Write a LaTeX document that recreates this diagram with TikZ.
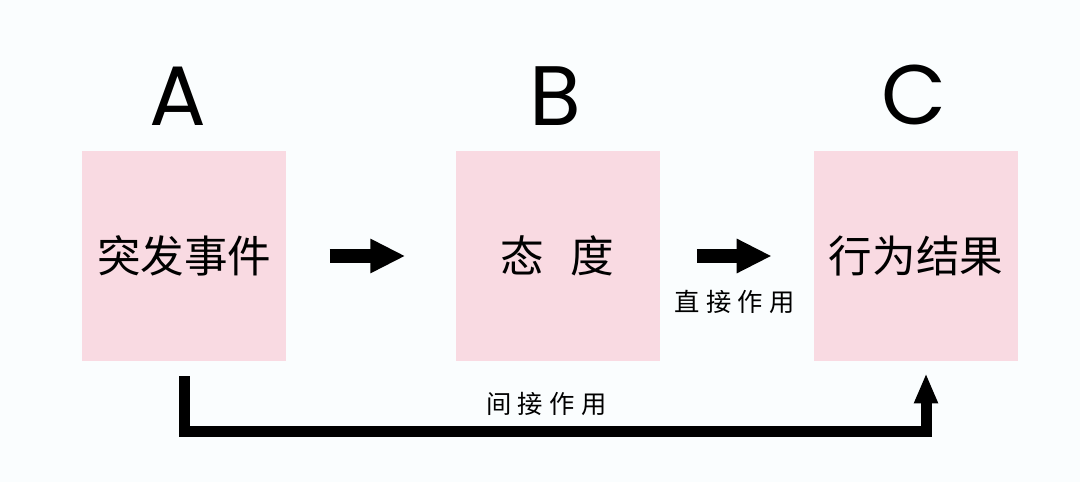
\documentclass[tikz,border=0pt]{standalone}
\usepackage{fontspec}
\newfontfamily\cjk{Noto Sans CJK SC}
\newfontfamily\cjkwide{Noto Sans CJK SC}[LetterSpace=25]
\newfontfamily\letterfont{Poppins}
\usetikzlibrary{positioning,arrows.meta,calc}
\definecolor{boxpink}{HTML}{F9DAE2}
\definecolor{paper}{HTML}{FAFDFE}
\begin{document}
\begin{tikzpicture}[
  box/.style={fill=boxpink, minimum width=5.1cm, minimum height=5.25cm, inner sep=0pt,
    font=\cjk\fontsize{31}{36}\selectfont},
  tag/.style={inner sep=0pt, font=\letterfont\fontsize{60}{66}\selectfont},
  note/.style={inner sep=0pt, font=\cjkwide\fontsize{18}{21}\selectfont},
  fat/.style={line width=0.35cm, -{Triangle[width=0.8cm,length=0.875cm]}},
  bypass/.style={line width=0.275cm, -{Triangle[width=0.55cm,length=0.75cm]}}
]
\fill[paper] (0,0) rectangle (27,-12.05);
\useasboundingbox (0,0) rectangle (27,-12.05);
% the three stages
\node[box] (a) at (4.61,-6.4) {突发事件};
\node[box] (b) at (13.94,-6.4) {态\hspace{0.6em}度};
\node[box] (c) at (22.9,-6.4) {行为结果};
\node[tag, above=0.625cm of a, xshift=-0.15cm] (la) {A};
\node[tag, above=0.625cm of b, xshift=-0.05cm] (lb) {B};
\node[tag, above=0.625cm of c, xshift=-0.05cm] (lc) {C};
% direct arrows
\draw[fat, shorten <=1.075cm, shorten >=1.25cm] (a) -- (b);
\draw[fat, shorten <=0.925cm, shorten >=1.05cm] (b) -- (c);
\node[note] (direct) at ($(b.east)!0.5!(c.west)+(-0.05,-1.15)$) {直接作用};
% indirect path
\draw[bypass] ([yshift=-0.375cm]a.south) -- ++(0,-1.375)
  -| ([xshift=0.25cm,yshift=-0.3cm]c.south);
\node[note] (indirect) at ($(a.south)!0.5!(c.south)+(-0.1,-1.075)$) {间接作用};
\end{tikzpicture}
\end{document}
